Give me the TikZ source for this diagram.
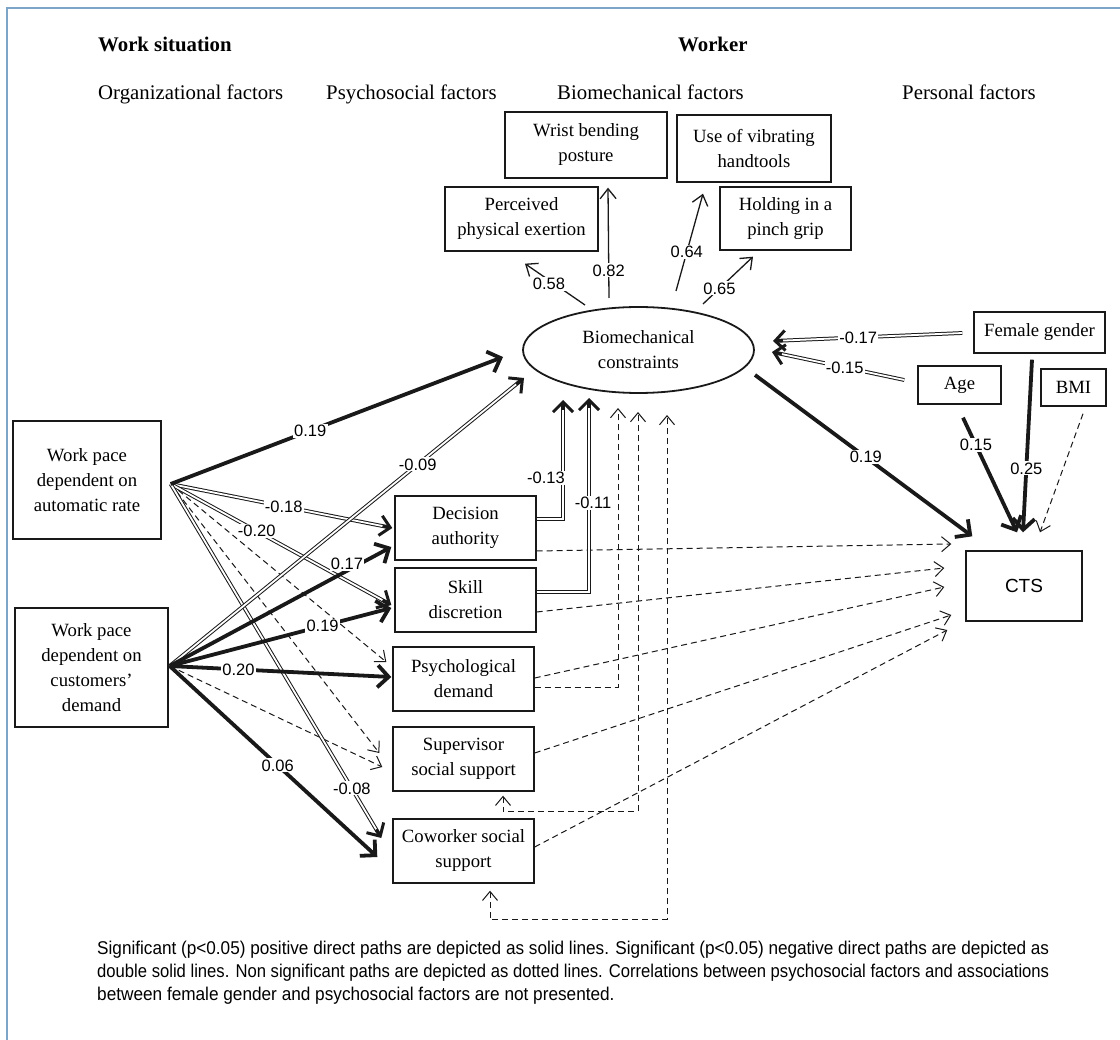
\documentclass[tikz,border=0pt]{standalone}
\usepackage{graphicx}
\usepackage{fontspec}
\setmainfont{Liberation Serif}
\newfontfamily\labfont{Liberation Sans}
\newfontfamily\capfont[FakeStretch=0.93]{Liberation Sans}
\usetikzlibrary{arrows.meta,calc,shapes.geometric}
\definecolor{ink}{RGB}{25,25,25}
\definecolor{framec}{RGB}{125,165,200}
\begin{document}
\begin{tikzpicture}[x=1pt,y=-1pt,
  box/.style={draw=ink, line width=1.4pt, inner sep=0pt, align=center, font=\fontsize{18.7}{25}\selectfont},
  head/.style={anchor=base west, inner sep=0pt, font=\fontsize{20.8}{24}\selectfont},
  lbl/.style={fill=white, inner sep=1.2pt, font={\labfont\fontsize{16.5}{18}\selectfont}},
  thk/.style={draw=ink, line width=3.8pt, -{Straight Barb[length=11pt,width=22pt]}},
  thin/.style={draw=ink, line width=1.3pt, -{Straight Barb[length=10pt,width=16pt]}},
  dsh/.style={draw=ink, line width=1pt, dash pattern=on 6pt off 4pt, -{Straight Barb[length=9pt,width=15pt]}},
  dshboth/.style={draw=ink, line width=1pt, dash pattern=on 6pt off 4pt, {Straight Barb[length=9pt,width=15pt]}-{Straight Barb[length=9pt,width=15pt]}},
  dbl/.style={draw=ink, double=white, double distance=1.8pt, line width=1pt, shorten >=5pt},
  dbltip/.style={draw=ink, line width=3pt, -{Straight Barb[length=10pt,width=20pt]}},
  captxt/.style={anchor=base west, inner sep=0pt, font={\capfont\fontsize{18.5}{23}\selectfont}}
]
\useasboundingbox (0,0) rectangle (1120,1040);
\fill[white] (0,0) rectangle (1120,1040);
\draw[framec, line width=1.5pt] (1130,8) -- (7,8) -- (7,1050);

% headings
\node[head] (h1) at (98,52) {\textbf{Work situation}};
\node[head] (h2) at (678,52) {\textbf{Worker}};
\node[head] (h3) at (98,100) {Organizational factors};
\node[head] (h4) at (326,100) {Psychosocial factors};
\node[head] (h5) at (557,100) {Biomechanical factors};
\node[head] (h6) at (902,100) {Personal factors};

% boxes
\node[box, minimum width=162pt, minimum height=66pt] (wrist) at (586,145) {Wrist bending\\posture};
\node[box, minimum width=154pt, minimum height=67pt] (vib) at (754,148.5) {Use of vibrating\\handtools};
\node[box, minimum width=153pt, minimum height=64pt] (perc) at (521.5,219) {Perceived\\physical exertion};
\node[box, minimum width=131pt, minimum height=63pt] (hold) at (785.5,218.5) {Holding in a\\pinch grip};
\node[box, ellipse, line width=1.8pt, minimum width=231pt, minimum height=86pt] (bc) at (638.5,350) {Biomechanical\\constraints};
\node[box, minimum width=131pt, minimum height=41pt] (fg) at (1039.5,332.5) {Female gender};
\node[box, minimum width=83pt, minimum height=38pt] (age) at (959.5,385) {Age};
\node[box, minimum width=65pt, minimum height=37pt] (bmi) at (1073.5,387.5) {BMI};
\node[box, minimum width=116pt, minimum height=70pt, font={\labfont\fontsize{19}{22}\selectfont}] (cts) at (1024,586) {CTS};
\node[box, minimum width=148pt, minimum height=118pt] (aut) at (87,480) {Work pace\\dependent on\\automatic rate};
\node[box, minimum width=153pt, minimum height=119pt] (cus) at (91.5,667.5) {Work pace\\dependent on\\customers’\\demand};
\node[box, minimum width=141pt, minimum height=64pt] (da) at (465.5,528) {Decision\\authority};
\node[box, minimum width=141pt, minimum height=64pt] (sd) at (465.5,600) {Skill\\discretion};
\node[box, minimum width=141pt, minimum height=64pt] (pd) at (463.5,679) {Psychological\\demand};
\node[box, minimum width=141pt, minimum height=64pt] (ss) at (463.5,759) {Supervisor\\social support};
\node[box, minimum width=141pt, minimum height=64pt] (cs) at (463.5,851) {Coworker social\\support};

% ports
\coordinate (autR) at ($(aut.east)+(9,4)$);
\coordinate (cusR) at ($(cus.east)+(1,-1.5)$);
\coordinate (tbc1) at ($(bc.center)+(-135.5,7)$);
\coordinate (tbc2) at ($(bc.center)+(-114.5,28)$);
\coordinate (tbc3) at ($(bc.center)+(134.5,-9)$);
\coordinate (tbc4) at ($(bc.center)+(133.5,2)$);
\coordinate (tbc5) at ($(bc.center)+(-75.5,50)$);
\coordinate (tbc6) at ($(bc.center)+(-49.5,48)$);
\coordinate (tbc7) at ($(bc.center)+(-20.5,58)$);
\coordinate (tbc8) at ($(bc.center)+(-0.5,62)$);
\coordinate (tbc9) at ($(bc.center)+(28.5,65)$);
\coordinate (s58) at ($(bc.center)+(-53.5,-45)$);
\coordinate (s82) at ($(bc.center)+(-29.5,-52)$);
\coordinate (s64) at ($(bc.center)+(37.5,-59)$);
\coordinate (s65) at ($(bc.center)+(64.5,-46)$);
\coordinate (sbc) at ($(bc.center)+(116.5,25)$);
\coordinate (e58) at ($(perc.south)+(3.5,12)$);
\coordinate (e82) at ($(wrist.south)+(22,9)$);
\coordinate (e64) at ($(vib.south)+(-51,11)$);
\coordinate (e65) at ($(hold.south)+(-32.5,6)$);
\coordinate (sfg1) at ($(fg.west)+(-11,0.5)$);
\coordinate (sage1) at ($(age.west)+(-13,-5)$);
\coordinate (sage2) at ($(age.south)+(3.5,13)$);
\coordinate (sfg2) at ($(fg.south)+(-7.5,6)$);
\coordinate (sbmi) at ($(bmi.south)+(9.5,7)$);
\coordinate (ects1) at ($(cts.north west)+(7,-14)$);
\coordinate (ects2) at ($(cts.north)+(-7,-18)$);
\coordinate (ects3) at ($(cts.north)+(-1,-18)$);
\coordinate (ects4) at ($(cts.north)+(16,-18)$);
\coordinate (c1) at ($(cts.west)+(-14,-42)$);
\coordinate (c2) at ($(cts.west)+(-21,-18)$);
\coordinate (c3) at ($(cts.west)+(-21,1)$);
\coordinate (c4) at ($(cts.west)+(-14,29)$);
\coordinate (c5) at ($(cts.west)+(-18,44)$);
\coordinate (da1) at ($(da.east)+(0,-9)$);
\coordinate (da2) at ($(da.east)+(0,23)$);
\coordinate (sd1) at ($(sd.east)+(0,-8)$);
\coordinate (sd2) at ($(sd.east)+(0,12)$);
\coordinate (pd1) at ($(pd.east)+(0,8)$);
\coordinate (pd2) at ($(pd.east)+(0,-1)$);
\coordinate (ss2) at ($(ss.east)+(0,-6)$);
\coordinate (ssB) at ($(ss.south)+(39.5,4)$);
\coordinate (cs2) at ($(cs.east)+(0,-4)$);
\coordinate (csB) at ($(cs.south)+(26.5,7)$);
\coordinate (ta1) at ($(da.west)+(-2,0)$);
\coordinate (ta2) at ($(sd.west)+(-3,5)$);
\coordinate (ta3) at ($(pd.west)+(-6,-17)$);
\coordinate (ta4) at ($(ss.west)+(-13,-6)$);
\coordinate (ta5) at ($(cs.west)+(-11,-13)$);
\coordinate (tc1) at ($(da.west)+(-3,19)$);
\coordinate (tc2) at ($(sd.west)+(-3,8)$);
\coordinate (tc3) at ($(pd.west)+(-1,-2)$);
\coordinate (tc4) at ($(ss.west)+(-10,8)$);
\coordinate (tc5) at ($(cs.west)+(-15,6)$);

% dashed paths
\draw[dsh] (da2) -- (c1);
\draw[dsh] (sd2) -- (c2);
\draw[dsh] (pd2) -- (c3);
\draw[dsh] (ss2) -- (c4);
\draw[dsh] (cs2) -- (c5);
\draw[dsh] (pd1) -| (tbc7);
\draw[dshboth] (ssB) -- ++(0,16) -| (tbc8);
\draw[dshboth] (csB) -- ++(0,29) -| (tbc9);
\draw[dsh] (autR) -- (ta3);
\draw[dsh] (autR) -- (ta4);
\draw[dsh] (cusR) -- (tc4);
\draw[dsh] (sbmi) -- (ects4);

% loadings
\draw[thin] (s58) -- node[lbl,pos=0.6,yshift=-4pt] (l58) {0.58} (e58);
\draw[thin] (s82) -- node[lbl,pos=0.25] (l82) {0.82} (e82);
\draw[thin] (s64) -- node[lbl,pos=0.4] (l64) {0.64} (e64);
\draw[thin] (s65) -- node[lbl,pos=0.33] (l65) {0.65} (e65);

% double (negative) paths
\draw[dbl] (autR) -- node[lbl,pos=0.51] (m18) {-0.18} (ta1);
\draw[dbltip] ($(ta1)!10pt!(autR)$) -- (ta1);
\draw[dbl] (autR) -- node[lbl,pos=0.39] (m20) {-0.20} (ta2);
\draw[dbltip] ($(ta2)!10pt!(autR)$) -- (ta2);
\draw[dbl] (autR) -- node[lbl,pos=0.86] (m08) {-0.08} (ta5);
\draw[dbltip] ($(ta5)!10pt!(autR)$) -- (ta5);
\draw[dbl] (cusR) -- node[lbl,pos=0.70] (m09) {-0.09} (tbc2);
\draw[dbltip] ($(tbc2)!10pt!(cusR)$) -- (tbc2);
\draw[dbl] (da1) -| (tbc5);
\draw[dbltip] ($(tbc5)+(0,10)$) -- (tbc5);
\node[lbl] (m13) at (546,478) {-0.13};
\draw[dbl] (sd1) -| (tbc6);
\draw[dbltip] ($(tbc6)+(0,10)$) -- (tbc6);
\node[lbl] (m11) at (593,503) {-0.11};
\draw[dbl] (sfg1) -- node[lbl,pos=0.55] (m17) {-0.17} (tbc3);
\draw[dbltip] ($(tbc3)!10pt!(sfg1)$) -- (tbc3);
\draw[dbl] (sage1) -- node[lbl,pos=0.45] (m15) {-0.15} (tbc4);
\draw[dbltip] ($(tbc4)!10pt!(sage1)$) -- (tbc4);

% thick (positive) paths
\draw[thk] (autR) -- node[lbl,pos=0.42] (p19a) {0.19} (tbc1);
\draw[thk] (cusR) -- node[lbl,pos=0.8,yshift=7pt] (p17) {0.17} (tc1);
\draw[thk] (cusR) -- node[lbl,pos=0.69] (p19b) {0.19} (tc2);
\draw[thk] (cusR) -- node[lbl,pos=0.31] (p20) {0.20} (tc3);
\draw[thk] (cusR) -- node[lbl,pos=0.52] (p06) {0.06} (tc5);
\draw[thk] (sbc) -- node[lbl,pos=0.51] (p19c) {0.19} (ects1);
\draw[thk] (sage2) -- node[lbl,pos=0.24] (p15) {0.15} (ects2);
\draw[thk] (sfg2) -- node[lbl,pos=0.63] (p25) {0.25} (ects3);

% caption
\node[captxt] (cap1) at (97,954) {\resizebox{952pt}{\height}{Significant (p<0.05) positive direct paths are depicted as solid lines. Significant (p<0.05) negative direct paths are depicted as}};
\node[captxt] (cap2) at (97,977) {\resizebox{952pt}{\height}{double solid lines. Non significant paths are depicted as dotted lines. Correlations between psychosocial factors and associations}};
\node[captxt] (cap3) at (97,1000) {between female gender and psychosocial factors are not presented.};
\end{tikzpicture}
\end{document}
